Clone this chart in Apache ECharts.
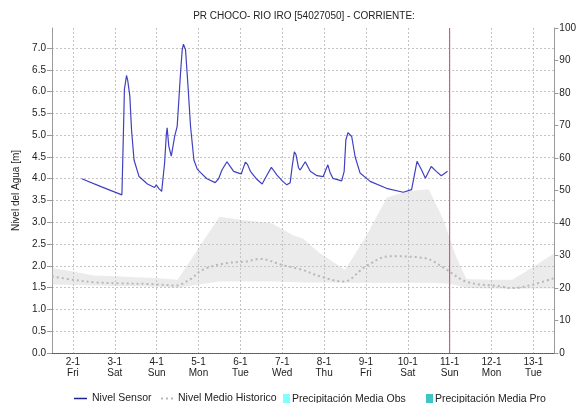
<!DOCTYPE html>
<html>
<head>
<meta charset="utf-8">
<script src="https://cdn.jsdelivr.net/npm/echarts@6/dist/echarts.min.js"></script>
<style>
html,body{margin:0;padding:0;background:#fff;}
#chart{width:579px;height:403px;}
</style>
</head>
<body>
<div id="chart"></div>
<script>
// ---- data (x = day of January, fractional) ----
const dayLabels = ['2-1','3-1','4-1','5-1','6-1','7-1','8-1','9-1','10-1','11-1','12-1','13-1'];
const weekDays = ['Fri','Sat','Sun','Mon','Tue','Wed','Thu','Fri','Sat','Sun','Mon','Tue'];

const sensorT = [2.21,2.67,3.17,3.20,3.23,3.28,3.31,3.36,3.40,3.46,3.58,3.78,3.95,3.99,4.05,4.12,4.15,4.19,4.23,4.25,4.29,4.35,4.38,4.43,4.49,4.53,4.57,4.61,4.64,4.69,4.75,4.81,4.89,4.97,5.05,5.20,5.40,5.48,5.56,5.68,5.76,5.84,5.96,6.02,6.07,6.12,6.17,6.24,6.38,6.52,6.64,6.74,6.79,6.87,7.00,7.11,7.19,7.24,7.29,7.33,7.39,7.43,7.55,7.67,7.83,7.98,8.04,8.09,8.14,8.21,8.42,8.48,8.52,8.57,8.61,8.66,8.74,8.86,9.10,9.49,9.89,10.09,10.15,10.22,10.25,10.33,10.42,10.49,10.56,10.68,10.80,10.95];
const sensorV = [4.00,3.82,3.63,4.80,6.05,6.37,6.25,5.89,5.12,4.43,4.05,3.88,3.80,3.86,3.78,3.71,3.72,4.36,5.00,5.17,4.75,4.52,4.52,4.97,5.20,5.80,6.42,6.95,7.09,6.96,6.11,5.20,4.43,4.22,4.14,4.00,3.91,4.00,4.20,4.39,4.28,4.17,4.13,4.11,4.25,4.38,4.33,4.17,4.00,3.88,4.09,4.26,4.20,4.09,3.95,3.86,3.91,4.30,4.62,4.55,4.25,4.20,4.39,4.17,4.07,4.05,4.20,4.32,4.15,4.01,3.95,4.17,4.89,5.06,5.08,4.97,4.51,4.13,3.94,3.78,3.69,3.75,4.05,4.40,4.43,4.20,4.01,4.15,4.28,4.17,4.07,4.17];

const meanT = [1.5,2.0,2.55,3.11,3.9,4.46,4.78,5.1,5.65,6.13,6.48,7.0,7.48,7.9,8.46,9.0,9.55,10.4,10.87,11.39,12.2,12.5,12.98,13.5];
const meanV = [1.76,1.68,1.62,1.60,1.58,1.55,1.68,1.91,2.06,2.10,2.16,2.02,1.91,1.76,1.64,1.99,2.22,2.18,1.95,1.64,1.53,1.49,1.57,1.72];

const bandT    = [1.5,2.0,2.5,3.0,3.5,4.0,4.5,5.5,6.0,6.75,7.25,7.5,7.9,8.5,9.0,9.5,10.0,10.5,10.85,11.15,11.4,12.0,12.5,13.0,13.5];
const bandHigh = [1.95,1.87,1.78,1.76,1.74,1.72,1.68,3.13,3.06,2.98,2.71,2.62,2.29,1.91,2.67,3.57,3.71,3.76,3.06,2.22,1.70,1.68,1.68,1.98,2.29];
const bandLow  = [1.57,1.56,1.55,1.54,1.53,1.52,1.50,1.64,1.64,1.64,1.63,1.62,1.62,1.61,1.61,1.61,1.61,1.61,1.60,1.56,1.49,1.48,1.47,1.48,1.48];

const precipObs = [];
const precipPro = [];
const nowDay = 11;

const leftTicks = [0,0.5,1,1.5,2,2.5,3,3.5,4,4.5,5,5.5,6,6.5,7];
const levelMin = 0, levelMax = 7.46;

// ---- build ----
const FONT = 'Liberation Sans, Arial, sans-serif';
const categories = [];
for (let i = 0; i <= 24; i++) {
  const d = 1.5 + 0.5 * i;
  if (Number.isInteger(d)) categories.push(dayLabels[d - 2] + '\n' + weekDays[d - 2]);
  else categories.push('');
}
const gridLine = { show: true, lineStyle: { color: '#c4c4c4', type: [2, 2], width: 1 } };
const legendText = { fontSize: 10.5, color: '#222', fontFamily: FONT };
const SENSOR = '#4040c0';
const MEAN = '#b8b8b8';
const NOW = '#d8405a';

const chart = echarts.init(document.getElementById('chart'), null, { renderer: 'canvas' });
chart.setOption({
  animation: false,
  backgroundColor: '#fff',
  textStyle: { fontFamily: FONT },
  title: {
    text: 'PR CHOCO- RIO IRO [54027050] - CORRIENTE:',
    left: 304, textAlign: 'center', top: 11, padding: 0,
    textStyle: { fontSize: 10, fontWeight: 'normal', color: '#222', fontFamily: FONT }
  },
  grid: { left: 52, right: 23, top: 28, bottom: 50, containLabel: false },
  legend: [
    { data: [{ name: 'Nivel Sensor', icon: 'rect', itemStyle: { color: '#20208f' } }],
      left: 74, top: 393, padding: 0, itemWidth: 13, itemHeight: 1.5, textStyle: legendText },
    { data: [{ name: 'Nivel Medio Historico', icon: 'path://M0,0h2v2h-2zM5,0h2v2h-2zM10,0h2v2h-2z', itemStyle: { color: MEAN } }],
      left: 161, top: 393, padding: 0, itemWidth: 12, itemHeight: 2, textStyle: legendText },
    { data: [{ name: 'Precipitación Media Obs', icon: 'rect' }], left: 283, top: 394, padding: 0, itemWidth: 7, itemHeight: 11,
      textStyle: { fontSize: 10.5, color: '#222', fontFamily: FONT, padding: [0, 0, 0, -3] } },
    { data: [{ name: 'Precipitación Media Pro', icon: 'rect' }], left: 426, top: 394, padding: 0, itemWidth: 7, itemHeight: 11,
      textStyle: { fontSize: 10.5, color: '#222', fontFamily: FONT, padding: [0, 0, 0, -3] } }
  ],
  xAxis: [
    { type: 'value', min: 1.5, max: 13.5, position: 'top',
      axisLine: { show: true, lineStyle: { color: '#9a9a9a' } },
      axisTick: { show: false }, axisLabel: { show: false }, splitLine: { show: false } },
    { type: 'category', data: categories, boundaryGap: false, position: 'bottom',
      axisLine: { show: true, lineStyle: { color: '#555', type: [1, 1] } },
      axisTick: { show: false },
      axisLabel: { interval: 0, fontSize: 10, color: '#222', lineHeight: 11, margin: 4, fontFamily: FONT },
      splitLine: { show: true, interval: function (idx) { return idx % 2 === 1; },
        lineStyle: { color: '#c4c4c4', type: [2, 2], width: 1 } } }
  ],
  yAxis: [
    { type: 'value', min: levelMin, max: levelMax, interval: 0.5, position: 'left',
      name: 'Nivel del Agua [m]', nameLocation: 'middle', nameGap: 18,
      nameTextStyle: { fontSize: 10, color: '#222', fontFamily: FONT },
      axisLine: { show: true, lineStyle: { color: '#9a9a9a' } },
      axisTick: { show: true, inside: false, length: 5, lineStyle: { color: '#9a9a9a' }, customValues: leftTicks },
      axisLabel: { fontSize: 10, color: '#222', margin: 6, customValues: leftTicks,
        formatter: function (v) { return v.toFixed(1); } },
      splitLine: gridLine },
    { type: 'value', min: 0, max: 100, interval: 10, position: 'right',
      axisLine: { show: true, lineStyle: { color: '#9a9a9a' } },
      axisTick: { show: true, inside: false, length: 4, lineStyle: { color: '#9a9a9a' } },
      axisLabel: { fontSize: 10, color: '#222', margin: 5 },
      splitLine: { show: false } }
  ],
  series: [
    { type: 'custom', name: 'band', silent: true, xAxisIndex: 0, yAxisIndex: 0,
      data: bandT.map(function (t, i) { return [t, bandHigh[i], bandLow[i]]; }),
      encode: { x: 0, y: [1, 2] },
      renderItem: function (params, api) {
        if (params.dataIndex !== 0) return null;
        const pts = [];
        for (let i = 0; i < bandT.length; i++) pts.push(api.coord([bandT[i], bandHigh[i]]));
        for (let i = bandT.length - 1; i >= 0; i--) pts.push(api.coord([bandT[i], bandLow[i]]));
        return { type: 'polygon', shape: { points: pts }, style: { fill: 'rgba(200,200,200,0.36)', stroke: null } };
      },
      z: 1 },
    { type: 'line', name: 'Nivel Medio Historico', xAxisIndex: 0, yAxisIndex: 0,
      data: meanT.map(function (t, i) { return [t, meanV[i]]; }),
      smooth: 0.35, symbol: 'none', color: MEAN,
      lineStyle: { color: MEAN, width: 2, type: [2, 3] }, z: 3 },
    { type: 'line', name: 'Nivel Sensor', xAxisIndex: 0, yAxisIndex: 0,
      data: sensorT.map(function (t, i) { return [t, sensorV[i]]; }),
      symbol: 'none', color: SENSOR,
      lineStyle: { color: SENSOR, width: 1.2 }, z: 4 },
    { type: 'line', name: 'now', xAxisIndex: 0, yAxisIndex: 0, silent: true,
      data: [[nowDay, levelMin], [nowDay, levelMax]],
      symbol: 'none', color: NOW, lineStyle: { color: NOW, width: 1 }, z: 5 },
    { type: 'bar', name: 'Precipitación Media Obs', xAxisIndex: 0, yAxisIndex: 1,
      data: precipObs, color: '#80ffff' },
    { type: 'bar', name: 'Precipitación Media Pro', xAxisIndex: 0, yAxisIndex: 1,
      data: precipPro, color: '#40c4c4' }
  ]
});
</script>
</body>
</html>
